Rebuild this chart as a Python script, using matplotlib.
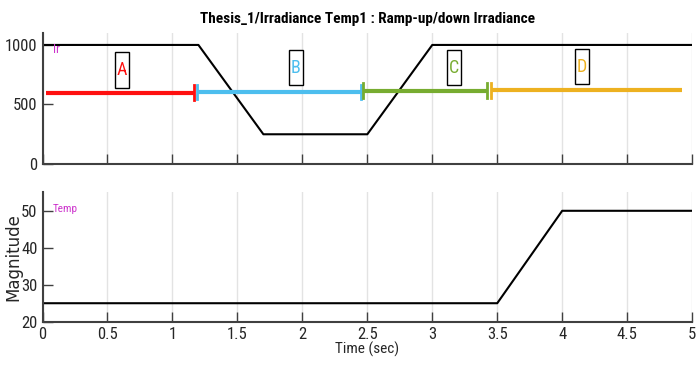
import numpy as np
import matplotlib.pyplot as plt
from matplotlib.patches import Rectangle

# irradiance profile (W/m^2)
ir_t = [0, 1.2, 1.7, 2.5, 3.0, 5.0]
ir_val = [1000, 1000, 250, 250, 1000, 1000]

# temperature profile (degC)
temp_t = [0, 3.5, 4.0, 5.0]
temp_val = [25, 25, 50, 50]

# region segments A-D
seg_names = ['A', 'B', 'C', 'D']
seg_start = [0.025, 1.19, 2.47, 3.45]
seg_end = [1.165, 2.45, 3.42, 4.92]
seg_y = [600, 605, 615, 620]
seg_colors = ['#ff1010', '#4dbeee', '#77ac30', '#edb120']
lbl_x = [0.61, 1.95, 3.17, 4.15]
lbl_y = [790, 808, 808, 817]

plt.rcParams['font.family'] = ['Liberation Sans Narrow', 'Roboto Condensed',
                               'Archivo Narrow', 'Liberation Sans', 'DejaVu Sans']

fig = plt.figure(figsize=(6.97, 3.67), dpi=100)
ax1 = fig.add_axes([0.061, 0.553, 0.932, 0.357])
ax2 = fig.add_axes([0.061, 0.1234, 0.932, 0.3526])

spine_col = '#404040'
for ax in (ax1, ax2):
    ax.set_xlim(0, 5)
    ax.set_xticks(np.arange(0, 5.01, 0.5))
    ax.grid(axis='x', color='#e3e3e3', lw=1)
    ax.set_axisbelow(True)
    for s in ('top', 'right'):
        ax.spines[s].set_visible(False)
    for s in ('left', 'bottom'):
        ax.spines[s].set_color(spine_col)
        ax.spines[s].set_linewidth(1.5)
    ax.tick_params(direction='in', length=7, width=1, colors=spine_col,
                   labelcolor='#262626', labelsize=12)

# top panel
ax1.plot(ir_t, ir_val, color='black', lw=1.5)
ax1.set_ylim(0, 1100)
ax1.set_yticks([0, 500, 1000])
ax1.tick_params(labelbottom=False)
box_w, box_h = 0.108, 295
for i in range(len(seg_names)):
    ax1.plot([seg_start[i], seg_end[i]], [seg_y[i], seg_y[i]], color=seg_colors[i],
             lw=3, solid_capstyle='butt')
    if i > 0:
        ax1.plot([seg_start[i], seg_start[i]], [seg_y[i] - 62, seg_y[i] + 62],
                 color=seg_colors[i], lw=2)
    if i < len(seg_names) - 1:
        ax1.plot([seg_end[i], seg_end[i]], [seg_y[i] - 62, seg_y[i] + 62],
                 color=seg_colors[i], lw=2)
    ax1.add_patch(Rectangle((lbl_x[i] - box_w / 2, lbl_y[i] - box_h / 2), box_w, box_h,
                            fc='white', ec='black', lw=1, zorder=3))
    ax1.text(lbl_x[i], lbl_y[i], seg_names[i], color=seg_colors[i], fontsize=13,
             ha='center', va='center', zorder=4)
ax1.text(0.08, 960, 'Ir', color='#cc33cc', fontsize=9, ha='left', va='center')
ax1.set_title('Thesis_1/Irradiance Temp1 : Ramp-up/down Irradiance',
              fontsize=11, fontweight='bold', pad=7)

# bottom panel
ax2.plot(temp_t, temp_val, color='black', lw=1.5)
ax2.set_ylim(20, 55)
ax2.set_yticks([20, 30, 40, 50])
ax2.set_xticklabels(['0', '0.5', '1', '1.5', '2', '2.5', '3', '3.5', '4', '4.5', '5'])
ax2.text(0.08, 50.4, 'Temp', color='#cc33cc', fontsize=8, ha='left', va='center')
ax2.set_ylabel('Magnitude', fontsize=12, family='DejaVu Sans', color='#262626', labelpad=-1)
ax2.set_xlabel('Time (sec)', fontsize=11, color='#262626', labelpad=0)

fig.savefig('out.png', dpi=100)
